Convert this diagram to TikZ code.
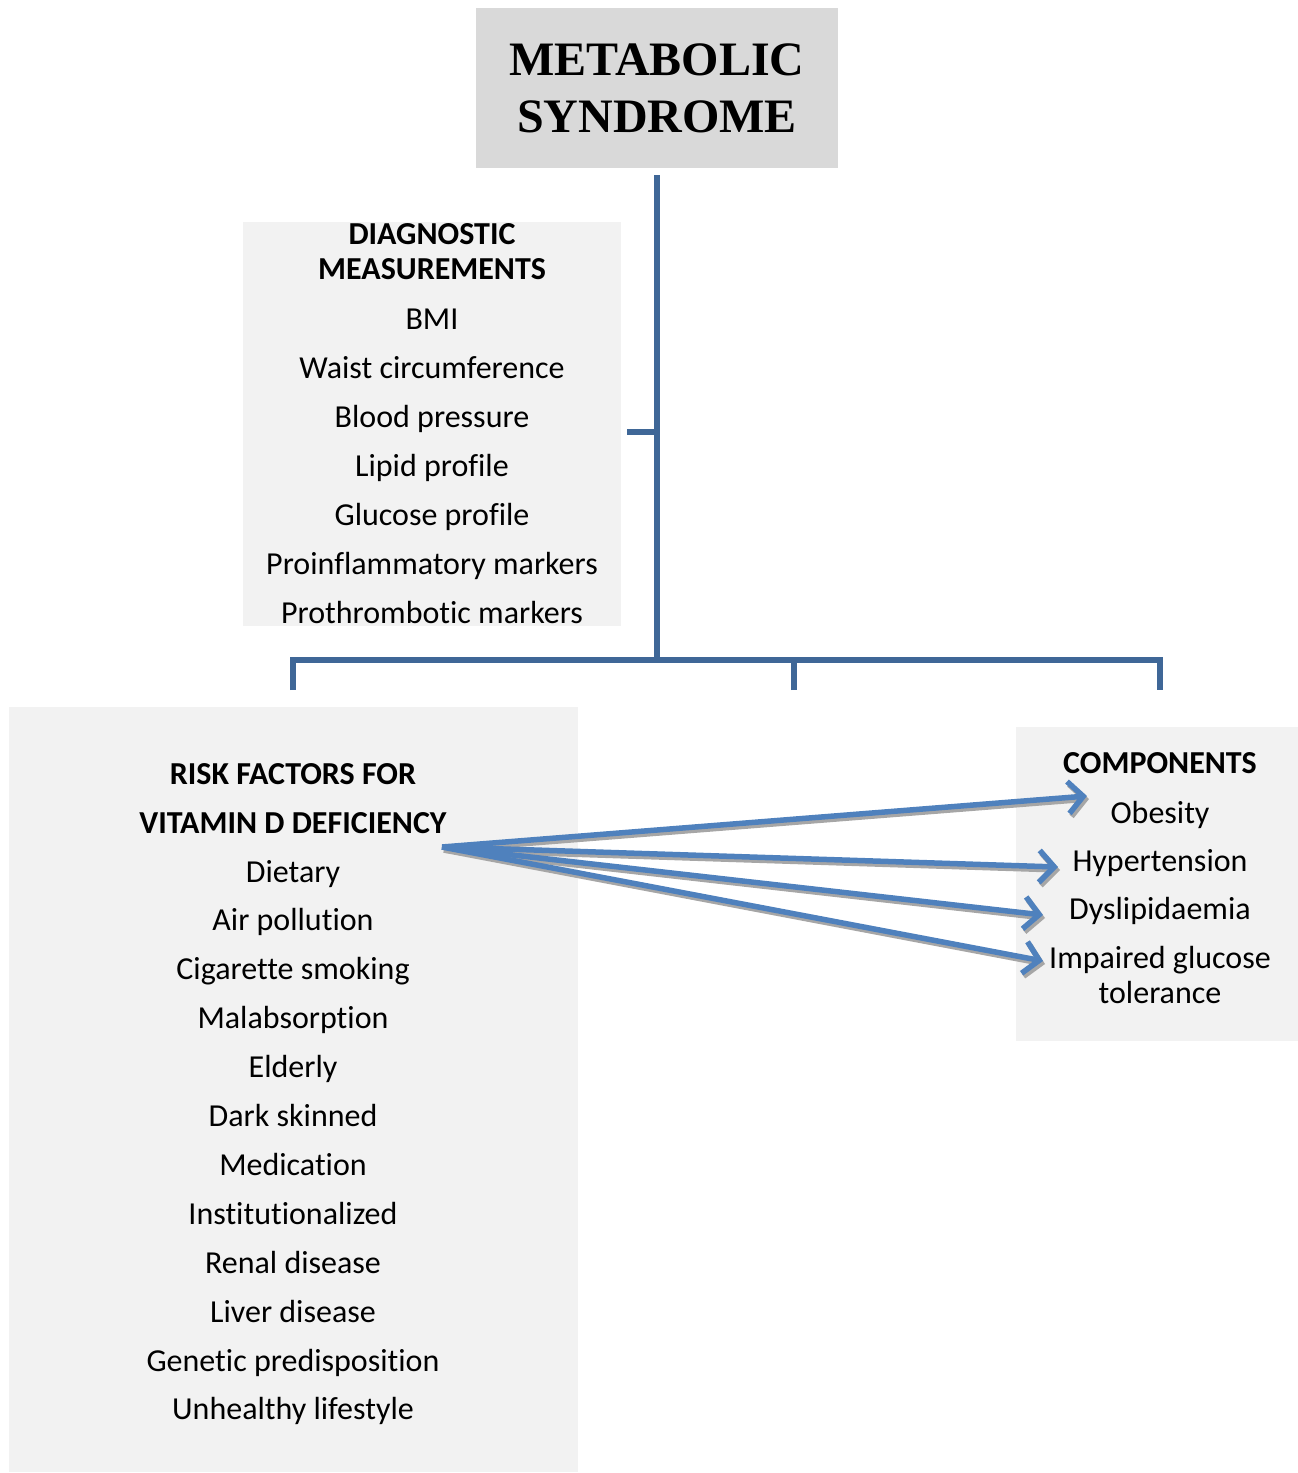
\documentclass[tikz,border=0pt]{standalone}
\usepackage{fontspec}
\setmainfont{Carlito}[Ligatures=NoCommon]
\newfontfamily\msTitleFont{Liberation Serif}
\usetikzlibrary{arrows.meta}
\definecolor{treeblue}{HTML}{3F6797}
\definecolor{linkblue}{HTML}{4F81BD}
\definecolor{panelgray}{HTML}{F2F2F2}
\definecolor{titlegray}{HTML}{D9D9D9}
\tikzset{
 panel/.style={fill=panelgray,draw=none,inner sep=0pt},
 item/.style={anchor=base,inner sep=0pt},
 head/.style={item,font=\fontsize{32}{38}\selectfont\bfseries},
 tree/.style={draw=treeblue,line width=5.5pt},
 link/.style={draw=linkblue,line width=5.5pt,-{Straight Barb[length=15pt,width=32pt]}},
 linkshade/.style={link,draw=gray!70}
}
\begin{document}
\begin{tikzpicture}[x=1pt,y=-1pt,font=\fontsize{32}{38}\selectfont]
 \useasboundingbox (0,0) rectangle (1298,1473);
 \node[panel,fill=titlegray,minimum width=362pt,minimum height=160pt,align=center,
   font=\msTitleFont\fontsize{48}{57}\selectfont\bfseries] (title) at (657,88) {METABOLIC\\SYNDROME};
 \node[panel,minimum width=378pt,minimum height=404pt] (diagbox) at (432,424) {};
 \node[panel,minimum width=569pt,minimum height=765pt] (riskbox) at (293.5,1089.5) {};
 \node[panel,minimum width=282pt,minimum height=314pt] (compbox) at (1157,884) {};
 \coordinate (hub) at (657,660);
 \coordinate (dmjoin) at (657,432);
 \coordinate (riskdrop) at (293,690);
 \coordinate (middrop) at (794,690);
 \coordinate (compdrop) at (1160,690);
 \draw[tree] ([yshift=-7pt]title.south) -- (hub);
 \draw[tree] ([xshift=6pt]diagbox.east |- dmjoin) -- (dmjoin);
 \draw[tree] (riskdrop) -- ++(0,-30) -| (compdrop);
 \draw[tree] (middrop) -- (middrop |- hub);
 \node[head] (dmhead1) at (432,244) {DIAGNOSTIC};
 \node[head] (dmhead2) at (432,279) {MEASUREMENTS};
 \foreach \t [count=\i] in {BMI,Waist circumference,Blood pressure,Lipid profile,
   Glucose profile,Proinflammatory markers,Prothrombotic markers}
  \node[item] (dm\i) at (432,{329+49*(\i-1)}) {\t};
 \node[head] (rfhead1) at (293,784) {RISK FACTORS FOR};
 \node[head] (rfhead2) at (293,833) {VITAMIN D DEFICIENCY};
 \foreach \t [count=\i] in {Dietary,Air pollution,Cigarette smoking,Malabsorption,
   Elderly,Dark skinned,Medication,Institutionalized,Renal disease,Liver disease,
   Genetic predisposition,Unhealthy lifestyle}
  \node[item] (rf\i) at (293,{882+48.9*(\i-1)}) {\t};
 \node[head] (comphead) at (1160,773) {COMPONENTS};
 \node[item] (obesity) at (1160,823) {Obesity};
 \node[item] (hypert) at (1160,871) {Hypertension};
 \node[item] (dyslip) at (1160,919) {Dyslipidaemia};
 \node[item] (igt1) at (1160,968) {Impaired glucose};
 \node[item] (igt2) at (1160,1003) {tolerance};
 \coordinate (src) at (442,847);
 \coordinate (obtip) at (1087,796);
 \coordinate (hytip) at (1058,867);
 \coordinate (dytip) at (1043,915);
 \coordinate (igtip) at (1043,961);
 \foreach \e in {obtip,hytip,dytip,igtip}{
  \draw[linkshade] ([shift={(2,3)}]src) -- ([shift={(2,3)}]\e);
  \draw[link] (src) -- (\e);
 }
\end{tikzpicture}
\end{document}
